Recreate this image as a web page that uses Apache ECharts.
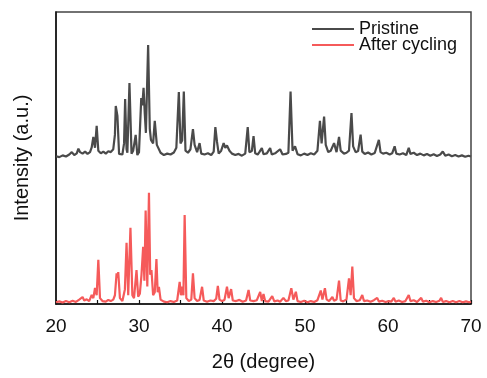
<!DOCTYPE html>
<html><head><meta charset="utf-8">
<script src="https://cdn.jsdelivr.net/npm/echarts@6/dist/echarts.min.js"></script>
<style>html,body{margin:0;padding:0;background:#fff}#c{width:487px;height:378px}</style>
</head><body><div id="c"></div>
<script>
// 2θ (degree) positions and intensities (a.u.)
const seriesNames = ["Pristine", "After cycling"];
const xTicks = [20, 30, 40, 50, 60, 70];

const pristineX = [20.0,20.4,20.8,21.2,21.6,21.9,22.2,22.5,22.7,22.9,23.2,23.5,23.8,24.1,24.3,24.5,24.7,24.9,25.1,25.4,25.7,26.0,26.3,26.6,26.9,27.1,27.2,27.4,27.6,28.0,28.2,28.33,28.5,28.6,28.85,29.1,29.3,29.6,29.8,30.0,30.27,30.4,30.55,30.7,30.83,31.1,31.3,31.44,31.7,31.9,32.15,32.35,32.6,33.0,33.4,33.8,34.2,34.5,34.8,35.0,35.2,35.4,35.6,35.9,36.2,36.5,36.7,37.0,37.3,37.5,37.9,38.3,38.7,39.0,39.2,39.4,39.6,39.9,40.2,40.4,40.6,40.9,41.2,41.6,42.0,42.4,42.8,43.1,43.3,43.6,43.8,44.0,44.3,44.5,44.8,45.0,45.4,45.8,46.0,46.4,47.0,47.3,47.7,48.0,48.26,48.5,48.8,49.1,49.5,49.9,50.3,50.7,51.1,51.5,51.8,52.0,52.3,52.5,52.8,53.1,53.5,53.8,54.1,54.3,54.7,55.0,55.3,55.6,55.8,56.1,56.4,56.7,56.9,57.2,57.6,58.0,58.4,58.9,59.1,59.4,59.8,60.2,60.5,60.8,61.0,61.4,61.8,62.2,62.5,62.7,63.1,63.5,63.9,64.3,64.7,65.1,65.5,65.9,66.3,66.6,66.9,67.3,67.7,68.1,68.5,68.9,69.3,69.7,70.0];
const pristineY = [50.6,50.3,50.9,50.5,51.2,52.0,51.0,51.6,53.2,52.0,51.5,52.2,51.4,52.0,53.6,57.2,53.5,61.0,52.5,51.6,52.2,51.5,52.3,52.0,53.0,58.0,67.8,64.4,51.4,51.2,55.0,70.2,53.0,51.8,75.7,51.5,52.5,57.9,51.0,52.0,70.5,68.0,74.0,65.0,58.6,88.7,60.0,56.2,55.0,62.7,54.5,55.1,51.8,51.0,51.5,51.2,51.9,53.5,72.6,55.0,56.0,72.8,52.5,51.8,53.0,59.9,54.5,52.0,55.1,51.5,51.2,51.6,51.0,52.2,60.6,55.5,51.5,52.5,55.1,53.5,54.3,52.5,51.5,51.0,51.4,50.8,51.5,60.6,52.0,52.4,57.5,51.6,51.2,52.0,53.4,51.3,51.6,53.4,51.2,51.6,53.0,51.2,51.4,51.8,72.8,52.5,54.0,51.3,50.9,51.5,51.0,51.6,51.2,52.5,62.7,55.0,64.2,54.5,52.0,52.5,55.1,52.0,57.2,52.5,51.5,51.8,52.5,65.4,54.0,52.0,52.4,58.0,52.2,51.4,51.9,51.2,51.7,56.2,52.0,51.5,51.8,51.2,51.6,54.0,51.5,51.2,51.6,51.0,53.5,51.4,51.8,51.0,51.5,50.9,51.4,50.8,51.3,50.7,51.2,52.2,50.8,51.2,50.6,51.0,50.5,50.9,50.4,50.8,50.5];

const cycledX = [20.0,20.4,20.8,21.2,21.6,22.0,22.4,22.8,23.0,23.2,23.4,23.7,24.0,24.3,24.5,24.7,24.9,25.1,25.3,25.6,26.0,26.3,26.6,26.9,27.1,27.3,27.4,27.5,27.7,28.0,28.3,28.5,28.7,28.97,29.2,29.4,29.7,29.9,30.1,30.3,30.5,30.65,30.8,31.0,31.2,31.35,31.5,31.7,31.9,32.1,32.25,32.4,32.6,33.0,33.4,33.8,34.2,34.6,34.9,35.05,35.2,35.35,35.5,35.7,36.0,36.3,36.5,36.7,37.0,37.3,37.6,37.8,38.2,38.6,39.0,39.3,39.5,39.7,40.0,40.3,40.6,40.8,41.1,41.3,41.7,42.1,42.5,42.9,43.2,43.4,43.8,44.2,44.6,44.8,45.0,45.2,45.6,46.05,46.3,46.7,47.0,47.4,47.7,48.0,48.35,48.6,48.9,49.1,49.5,49.9,50.3,50.7,51.1,51.5,51.9,52.1,52.4,52.6,52.9,53.3,53.5,53.8,54.1,54.3,54.6,55.0,55.3,55.5,55.7,55.9,56.2,56.6,56.9,57.1,57.5,57.9,58.3,58.7,58.9,59.3,59.7,60.1,60.4,60.7,60.9,61.3,61.7,62.1,62.5,62.7,63.1,63.5,64.0,64.2,64.6,65.0,65.4,65.8,66.2,66.4,66.6,67.0,67.4,67.8,68.2,68.6,69.0,69.4,69.8,70.0];
const cycledY = [0.6,0.9,0.5,1.0,0.6,1.1,0.7,1.5,1.0,2.4,1.2,1.6,1.0,3.1,2.0,5.5,3.0,15.1,2.0,1.0,0.8,1.4,1.0,1.5,3.0,10.5,9.0,10.9,2.0,1.0,5.0,21.0,3.0,26.1,3.0,2.0,11.6,2.5,3.5,10.0,19.6,8.0,32.0,6.0,38.1,10.0,11.6,3.0,4.0,15.4,4.0,5.9,1.5,0.8,0.6,1.0,0.7,1.2,7.6,3.0,5.9,3.0,30.5,2.0,1.0,1.5,10.5,2.0,1.0,1.4,5.9,1.2,0.8,1.2,1.0,1.8,6.2,1.5,1.0,1.4,5.9,2.0,5.1,1.2,1.0,1.4,0.8,1.2,4.8,1.2,1.0,1.3,4.1,1.0,3.4,1.0,0.8,2.7,0.9,1.2,0.8,2.1,1.0,1.2,5.4,1.5,4.2,1.0,0.7,1.1,0.6,1.0,0.7,1.3,4.6,1.5,5.4,1.6,1.0,2.4,1.1,1.5,8.0,1.2,0.9,1.6,8.8,3.0,12.8,2.0,1.0,1.3,3.1,1.0,1.2,0.8,1.3,2.1,0.8,1.1,0.7,1.0,0.8,2.1,0.8,1.2,0.7,1.0,3.1,1.0,1.3,0.7,2.1,0.8,1.1,0.6,1.0,0.7,1.1,2.1,0.7,1.0,0.6,1.0,0.6,1.0,0.6,0.9,0.6,0.8];

const pair = (xs, ys) => xs.map((x, i) => [x, ys[i]]);
const FONT = "Liberation Sans, Arial, Helvetica, sans-serif";
const COLORS = ['#4a4a4a', '#f55a5a'];

const chart = echarts.init(document.getElementById('c'), null, {renderer: 'canvas'});
chart.setOption({
  animation: false,
  backgroundColor: '#fff',
  grid: {left: 56, right: 16, top: 12, bottom: 74, show: true, borderColor: '#444', borderWidth: 1.5, containLabel: false},
  legend: {
    orient: 'vertical', left: 307, top: 15,
    icon: 'rect', itemWidth: 42, itemHeight: 2, itemGap: -2,
    textStyle: {fontFamily: FONT, fontSize: 18, lineHeight: 16, color: '#111'},
    data: seriesNames
  },
  xAxis: {
    type: 'value', min: xTicks[0], max: xTicks[xTicks.length-1], interval: 10,
    name: '2θ (degree)', nameLocation: 'middle', nameGap: 48,
    nameTextStyle: {fontFamily: FONT, fontSize: 20, color: '#111'},
    axisLine: {show: true, lineStyle: {color: '#111', width: 1.5}},
    axisTick: {show: true, inside: true, length: 4, lineStyle: {color: '#111', width: 1.2}},
    minorTick: {show: true, splitNumber: 2, length: 4, lineStyle: {color: '#111', width: 1.2}},
    axisLabel: {fontFamily: FONT, fontSize: 19, color: '#111', margin: 13},
    splitLine: {show: false}
  },
  yAxis: {
    type: 'value', min: 0, max: 100,
    name: 'Intensity (a.u.)', nameLocation: 'middle', nameGap: 24,
    nameTextStyle: {fontFamily: FONT, fontSize: 20, color: '#111'},
    axisLine: {show: true, lineStyle: {color: '#111', width: 1.5}},
    axisTick: {show: false}, axisLabel: {show: false}, splitLine: {show: false}
  },
  series: [
    {name: seriesNames[0], type: 'line', data: pair(pristineX, pristineY), symbol: 'none',
     lineStyle: {color: COLORS[0], width: 2.2}, itemStyle: {color: COLORS[0]}},
    {name: seriesNames[1], type: 'line', data: pair(cycledX, cycledY), symbol: 'none',
     lineStyle: {color: COLORS[1], width: 2.2}, itemStyle: {color: COLORS[1]}}
  ]
});
</script></body></html>
